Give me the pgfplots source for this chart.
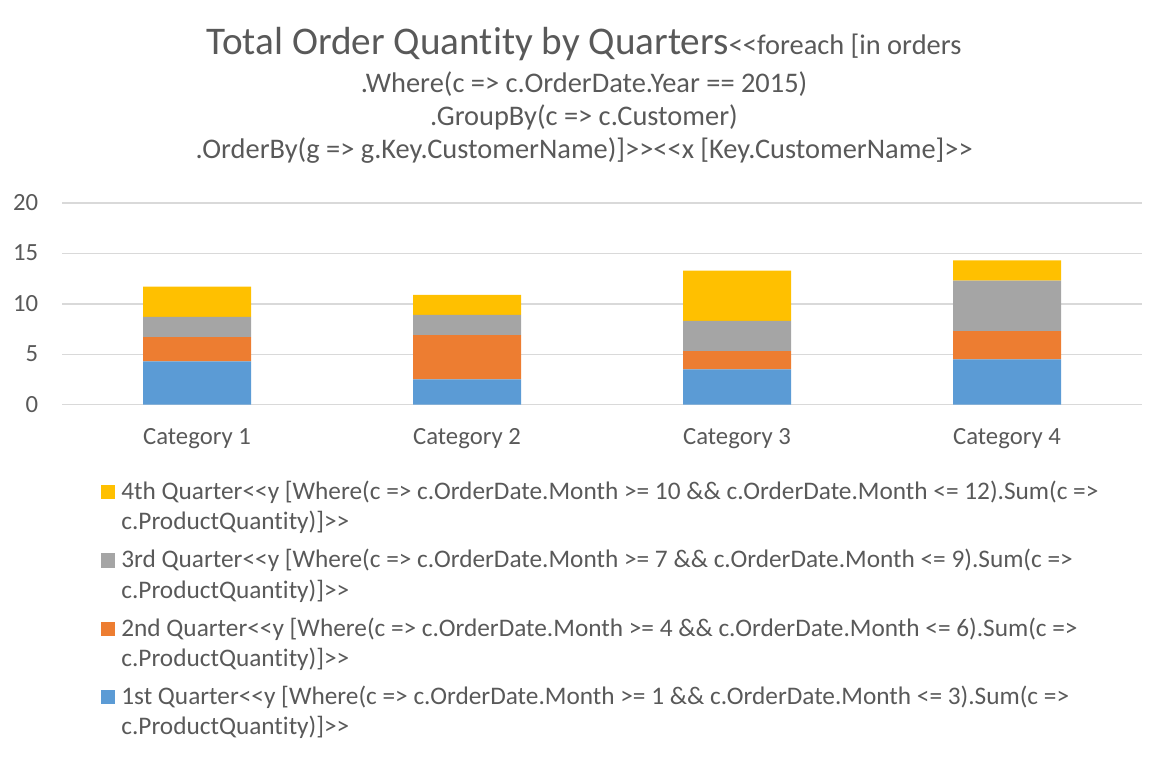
\documentclass[border=0pt]{standalone}
\usepackage{fontspec}
\setmainfont{Carlito}[Ligatures={TeXOff,NoCommon}]
\usepackage{pgfplots}
\pgfplotsset{compat=1.18}
\definecolor{qone}{HTML}{5B9BD5}
\definecolor{qtwo}{HTML}{ED7D31}
\definecolor{qthree}{HTML}{A5A5A5}
\definecolor{qfour}{HTML}{FFC000}
\definecolor{txtgray}{HTML}{595959}
\definecolor{gridgray}{HTML}{D9D9D9}
\newcommand{\tkf}{\fontsize{24.7bp}{30bp}\selectfont}
\newcommand{\lgf}{\fontsize{25.3bp}{30bp}\selectfont}
\newcommand{\smf}{\fontsize{28.4bp}{31bp}\selectfont}
\newcommand{\bgf}{\fontsize{39.2bp}{46bp}\selectfont}
\begin{document}
\begin{tikzpicture}
\useasboundingbox (0,0) rectangle (1168bp,758bp);
\begin{axis}[
  at={(62bp,353.3bp)}, anchor=south west,
  scale only axis, width=1080bp, height=201.7bp,
  ybar stacked, bar width=108bp,
  xmin=-0.5, xmax=3.5, ymin=0, ymax=20,
  xtick={0,1,2,3},
  xticklabels={Category 1,Category 2,Category 3,Category 4},
  ytick={0,5,10,15,20},
  ymajorgrids,
  grid style={draw=gridgray, line width=1.5bp},
  axis line style={draw=none},
  major tick length=0pt,
  tick style={draw=none},
  /pgf/number format/assume math mode=true,
  tick label style={font=\tkf, text=txtgray, inner sep=0pt},
  xticklabel style={anchor=base, yshift=-39.6bp},
  yticklabel style={anchor=base east, xshift=-23.7bp, yshift=-7.5bp},
  legend style={at={(0.0358,-0.3297)}, anchor=north west, draw=none, fill=none,
    inner sep=0pt, outer sep=0pt, row sep=0pt, column sep=0pt,
    font=\lgf, text=txtgray,
    cells={anchor=base west, inner sep=0pt},
    /tikz/every odd column/.append style={column sep=5bp}},
]
\addplot[fill=qone, draw=none, forget plot] coordinates {(0,4.3) (1,2.5) (2,3.5) (3,4.5)};
\addplot[fill=qtwo, draw=none, forget plot] coordinates {(0,2.4) (1,4.4) (2,1.8) (3,2.8)};
\addplot[fill=qthree, draw=none, forget plot] coordinates {(0,2) (1,2) (2,3) (3,5)};
\addplot[fill=qfour, draw=none, forget plot] coordinates {(0,3) (1,2) (2,5) (3,2)};

\addlegendimage{legend image code/.code={\fill[qfour] (0bp,1bp) rectangle (13.3bp,14.3bp);}}
\addlegendentry[text height=26.5bp, text depth=7.5bp]{4th Quarter<<y [Where(c => c.OrderDate.Month >= 10 \&\& c.OrderDate.Month <= 12).Sum(c =>}
\addlegendimage{empty legend}
\addlegendentry[text height=18.8bp, text depth=7.5bp]{c.ProductQuantity)]>>}
\addlegendimage{legend image code/.code={\fill[qthree] (0bp,1bp) rectangle (13.3bp,14.3bp);}}
\addlegendentry[text height=26.5bp, text depth=7.5bp]{3rd Quarter<<y [Where(c => c.OrderDate.Month >= 7 \&\& c.OrderDate.Month <= 9).Sum(c =>}
\addlegendimage{empty legend}
\addlegendentry[text height=18.8bp, text depth=7.5bp]{c.ProductQuantity)]>>}
\addlegendimage{legend image code/.code={\fill[qtwo] (0bp,1bp) rectangle (13.3bp,14.3bp);}}
\addlegendentry[text height=26.5bp, text depth=7.5bp]{2nd Quarter<<y [Where(c => c.OrderDate.Month >= 4 \&\& c.OrderDate.Month <= 6).Sum(c =>}
\addlegendimage{empty legend}
\addlegendentry[text height=18.8bp, text depth=7.5bp]{c.ProductQuantity)]>>}
\addlegendimage{legend image code/.code={\fill[qone] (0bp,1bp) rectangle (13.3bp,14.3bp);}}
\addlegendentry[text height=26.5bp, text depth=7.5bp]{1st Quarter<<y [Where(c => c.OrderDate.Month >= 1 \&\& c.OrderDate.Month <= 3).Sum(c =>}
\addlegendimage{empty legend}
\addlegendentry[text height=18.8bp, text depth=7.5bp]{c.ProductQuantity)]>>}
\end{axis}
\node[anchor=base, inner sep=0pt, text=txtgray] at (584bp,703.5bp) {{\bgf Total Order Quantity by Quarters}{\smf <<foreach [in orders}};
\node[anchor=base, inner sep=0pt, text=txtgray, font=\smf] at (584bp,665bp) {.Where(c => c.OrderDate.Year == 2015)};
\node[anchor=base, inner sep=0pt, text=txtgray, font=\smf] at (584bp,632bp) {.GroupBy(c => c.Customer)};
\node[anchor=base, inner sep=0pt, text=txtgray, font=\smf] at (584bp,599.5bp) {.OrderBy(g => g.Key.CustomerName)]>><<x [Key.CustomerName]>>};
\end{tikzpicture}
\end{document}
